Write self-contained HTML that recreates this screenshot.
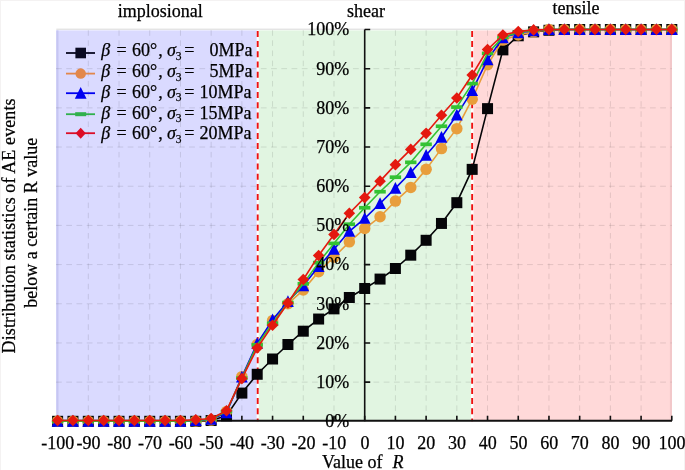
<!DOCTYPE html><html><head><meta charset="utf-8"><style>html,body{margin:0;padding:0;background:#fff}svg{display:block}text{font-family:"Liberation Serif",serif;font-size:18px;fill:#000;stroke:#000;stroke-width:0.25px}</style></head><body>
<svg width="685" height="470" viewBox="0 0 685 470">
<rect width="685" height="470" fill="#fff"/>
<path d="M684.5 0V470M0 0.5H685M0.5 0V470" stroke="#F4F2F2" stroke-width="1" fill="none"/>
<rect x="56.3" y="30.4" width="200.5" height="390.9" fill="#DADAFF"/>
<rect x="258.5" y="30.4" width="212.5" height="390.9" fill="#E1F5E1"/>
<rect x="473.3" y="30.4" width="198.7" height="390.9" fill="#FFD9D9"/>
<rect x="56.3" y="30.4" width="2.2" height="390.9" fill="#C6C6F2"/>
<rect x="669.9" y="30.4" width="2.1" height="390.9" fill="#F2C8CA"/>
<line x1="56.3" y1="29.2" x2="672" y2="29.2" stroke="#D8D8D8" stroke-width="1"/>
<path d="M88.31 30.2V421.3M119.02 30.2V421.3M149.73 30.2V421.3M180.44 30.2V421.3M211.15 30.2V421.3M241.86 30.2V421.3M272.57 30.2V421.3M303.28 30.2V421.3M333.99 30.2V421.3M364.7 30.2V421.3M395.41 30.2V421.3M426.12 30.2V421.3M456.83 30.2V421.3M487.54 30.2V421.3M518.25 30.2V421.3M548.96 30.2V421.3M579.67 30.2V421.3M610.38 30.2V421.3M641.09 30.2V421.3" stroke="#E4E4E4" style="mix-blend-mode:multiply" stroke-width="1" stroke-dasharray="5.6 4.54" fill="none"/>
<path d="M56 382.12H671.8M56 342.94H671.8M56 303.76H671.8M56 264.58H671.8M56 225.4H671.8M56 186.22H671.8M56 147.04H671.8M56 107.86H671.8M56 68.68H671.8" stroke="#E4E4E4" style="mix-blend-mode:multiply" stroke-width="1" stroke-dasharray="5.8 4.44" fill="none"/>
<rect x="256.8" y="30.4" width="1.7" height="390.9" fill="#fff"/>
<line x1="257.7" y1="30.9" x2="257.7" y2="421.3" stroke="#EE1111" stroke-width="1.9" stroke-dasharray="6 4.2"/>
<rect x="471" y="30.4" width="2.3" height="390.9" fill="#fff"/>
<line x1="472.15" y1="30.9" x2="472.15" y2="421.3" stroke="#EE1111" stroke-width="1.9" stroke-dasharray="6 4.2"/>
<line x1="56.6" y1="420.8" x2="672" y2="420.8" stroke="#111" stroke-width="2"/>
<path d="M57.6 420.8V415.8M88.31 420.8V415.8M119.02 420.8V415.8M149.73 420.8V415.8M180.44 420.8V415.8M211.15 420.8V415.8M241.86 420.8V415.8M272.57 420.8V415.8M303.28 420.8V415.8M333.99 420.8V415.8M364.7 420.8V415.8M395.41 420.8V415.8M426.12 420.8V415.8M456.83 420.8V415.8M487.54 420.8V415.8M518.25 420.8V415.8M548.96 420.8V415.8M579.67 420.8V415.8M610.38 420.8V415.8M641.09 420.8V415.8M671.8 420.8V415.8" stroke="#111" stroke-width="1.6" fill="none"/>
<line x1="364.7" y1="29.5" x2="364.7" y2="421.3" stroke="#111" stroke-width="1.6"/>
<path d="M364.7 382.12H370.2M364.7 342.94H370.2M364.7 303.76H370.2M364.7 264.58H370.2M364.7 225.4H370.2M364.7 186.22H370.2M364.7 147.04H370.2M364.7 107.86H370.2M364.7 68.68H370.2M364.7 29.5H370.2" stroke="#111" stroke-width="1.6" fill="none"/>
<text x="57.8" y="448.8" text-anchor="middle">-100</text>
<text x="88.51" y="448.8" text-anchor="middle">-90</text>
<text x="119.22" y="448.8" text-anchor="middle">-80</text>
<text x="149.93" y="448.8" text-anchor="middle">-70</text>
<text x="180.64" y="448.8" text-anchor="middle">-60</text>
<text x="211.35" y="448.8" text-anchor="middle">-50</text>
<text x="242.06" y="448.8" text-anchor="middle">-40</text>
<text x="272.77" y="448.8" text-anchor="middle">-30</text>
<text x="303.48" y="448.8" text-anchor="middle">-20</text>
<text x="334.19" y="448.8" text-anchor="middle">-10</text>
<text x="364.9" y="448.8" text-anchor="middle">0</text>
<text x="395.61" y="448.8" text-anchor="middle">10</text>
<text x="426.32" y="448.8" text-anchor="middle">20</text>
<text x="457.03" y="448.8" text-anchor="middle">30</text>
<text x="487.74" y="448.8" text-anchor="middle">40</text>
<text x="518.45" y="448.8" text-anchor="middle">50</text>
<text x="549.16" y="448.8" text-anchor="middle">60</text>
<text x="579.87" y="448.8" text-anchor="middle">70</text>
<text x="610.58" y="448.8" text-anchor="middle">80</text>
<text x="641.29" y="448.8" text-anchor="middle">90</text>
<text x="672" y="448.8" text-anchor="middle">100</text>
<text x="322" y="467.9">Value of</text><text x="392.6" y="467.9" font-style="italic">R</text>
<text transform="translate(14.7,352.4) rotate(-90)" x="-1" y="0" textLength="255" lengthAdjust="spacing">Distribution statistics of AE events</text>
<text transform="translate(37.1,307.7) rotate(-90)" x="0" y="0">below a certain R value</text>
<text x="117.8" y="16.9">implosional</text>
<text x="347" y="16.9">shear</text>
<text x="552.5" y="13.8">tensile</text>
<polyline points="57.6,421.3 72.95,421.3 88.31,421.3 103.66,421.3 119.02,421.3 134.38,421.3 149.73,421.3 165.08,421.3 180.44,421.3 195.79,421.3 211.15,420.52 226.5,415.81 241.86,393.09 257.21,374.28 272.57,359 287.92,344.51 303.28,331.19 318.63,319.04 333.99,308.85 349.34,297.49 364.7,288.48 380.06,279.08 395.41,268.5 410.76,255.18 426.12,240.29 441.47,223.44 456.83,202.68 472.18,169.37 487.54,108.64 502.89,49.87 518.25,35.77 533.6,31.85 548.96,30.28 564.31,29.5 579.67,29.5 595.02,29.5 610.38,29.5 625.73,29.5 641.09,29.5 656.44,29.5 671.8,29.5" fill="none" stroke="#050508" stroke-width="1.6" stroke-linejoin="round"/>
<rect x="52.1" y="415.8" width="11" height="11" fill="#050508"/><rect x="67.45" y="415.8" width="11" height="11" fill="#050508"/><rect x="82.81" y="415.8" width="11" height="11" fill="#050508"/><rect x="98.16" y="415.8" width="11" height="11" fill="#050508"/><rect x="113.52" y="415.8" width="11" height="11" fill="#050508"/><rect x="128.88" y="415.8" width="11" height="11" fill="#050508"/><rect x="144.23" y="415.8" width="11" height="11" fill="#050508"/><rect x="159.58" y="415.8" width="11" height="11" fill="#050508"/><rect x="174.94" y="415.8" width="11" height="11" fill="#050508"/><rect x="190.29" y="415.8" width="11" height="11" fill="#050508"/><rect x="205.65" y="415.02" width="11" height="11" fill="#050508"/><rect x="221" y="410.31" width="11" height="11" fill="#050508"/><rect x="236.36" y="387.59" width="11" height="11" fill="#050508"/><rect x="251.71" y="368.78" width="11" height="11" fill="#050508"/><rect x="267.07" y="353.5" width="11" height="11" fill="#050508"/><rect x="282.42" y="339.01" width="11" height="11" fill="#050508"/><rect x="297.78" y="325.69" width="11" height="11" fill="#050508"/><rect x="313.13" y="313.54" width="11" height="11" fill="#050508"/><rect x="328.49" y="303.35" width="11" height="11" fill="#050508"/><rect x="343.84" y="291.99" width="11" height="11" fill="#050508"/><rect x="359.2" y="282.98" width="11" height="11" fill="#050508"/><rect x="374.56" y="273.58" width="11" height="11" fill="#050508"/><rect x="389.91" y="263" width="11" height="11" fill="#050508"/><rect x="405.26" y="249.68" width="11" height="11" fill="#050508"/><rect x="420.62" y="234.79" width="11" height="11" fill="#050508"/><rect x="435.97" y="217.94" width="11" height="11" fill="#050508"/><rect x="451.33" y="197.18" width="11" height="11" fill="#050508"/><rect x="466.68" y="163.87" width="11" height="11" fill="#050508"/><rect x="482.04" y="103.14" width="11" height="11" fill="#050508"/><rect x="497.39" y="44.37" width="11" height="11" fill="#050508"/><rect x="512.75" y="30.27" width="11" height="11" fill="#050508"/><rect x="528.1" y="26.35" width="11" height="11" fill="#050508"/><rect x="543.46" y="24.78" width="11" height="11" fill="#050508"/><rect x="558.81" y="24" width="11" height="11" fill="#050508"/><rect x="574.17" y="24" width="11" height="11" fill="#050508"/><rect x="589.52" y="24" width="11" height="11" fill="#050508"/><rect x="604.88" y="24" width="11" height="11" fill="#050508"/><rect x="620.23" y="24" width="11" height="11" fill="#050508"/><rect x="635.59" y="24" width="11" height="11" fill="#050508"/><rect x="650.94" y="24" width="11" height="11" fill="#050508"/><rect x="666.3" y="24" width="11" height="11" fill="#050508"/>
<polyline points="57.6,421.3 72.95,421.3 88.31,421.3 103.66,421.3 119.02,421.3 134.38,421.3 149.73,421.3 165.08,421.3 180.44,421.3 195.79,420.91 211.15,420.12 226.5,411.5 241.86,376.63 257.21,344.51 272.57,320.61 287.92,303.76 303.28,290.05 318.63,271.63 333.99,257.14 349.34,241.86 364.7,228.53 380.06,216.78 395.41,201.11 410.76,187.4 426.12,169.37 441.47,148.61 456.83,128.63 472.18,99.24 487.54,64.76 502.89,40.08 518.25,34.99 533.6,31.85 548.96,29.5 564.31,29.5 579.67,29.5 595.02,29.5 610.38,29.5 625.73,29.5 641.09,29.5 656.44,29.5 671.8,29.5" fill="none" stroke="#E89E3C" stroke-width="1.6" stroke-linejoin="round"/>
<circle cx="57.6" cy="421.3" r="5.75" fill="#E89E3C"/><circle cx="72.95" cy="421.3" r="5.75" fill="#E89E3C"/><circle cx="88.31" cy="421.3" r="5.75" fill="#E89E3C"/><circle cx="103.66" cy="421.3" r="5.75" fill="#E89E3C"/><circle cx="119.02" cy="421.3" r="5.75" fill="#E89E3C"/><circle cx="134.38" cy="421.3" r="5.75" fill="#E89E3C"/><circle cx="149.73" cy="421.3" r="5.75" fill="#E89E3C"/><circle cx="165.08" cy="421.3" r="5.75" fill="#E89E3C"/><circle cx="180.44" cy="421.3" r="5.75" fill="#E89E3C"/><circle cx="195.79" cy="420.91" r="5.75" fill="#E89E3C"/><circle cx="211.15" cy="420.12" r="5.75" fill="#E89E3C"/><circle cx="226.5" cy="411.5" r="5.75" fill="#E89E3C"/><circle cx="241.86" cy="376.63" r="5.75" fill="#E89E3C"/><circle cx="257.21" cy="344.51" r="5.75" fill="#E89E3C"/><circle cx="272.57" cy="320.61" r="5.75" fill="#E89E3C"/><circle cx="287.92" cy="303.76" r="5.75" fill="#E89E3C"/><circle cx="303.28" cy="290.05" r="5.75" fill="#E89E3C"/><circle cx="318.63" cy="271.63" r="5.75" fill="#E89E3C"/><circle cx="333.99" cy="257.14" r="5.75" fill="#E89E3C"/><circle cx="349.34" cy="241.86" r="5.75" fill="#E89E3C"/><circle cx="364.7" cy="228.53" r="5.75" fill="#E89E3C"/><circle cx="380.06" cy="216.78" r="5.75" fill="#E89E3C"/><circle cx="395.41" cy="201.11" r="5.75" fill="#E89E3C"/><circle cx="410.76" cy="187.4" r="5.75" fill="#E89E3C"/><circle cx="426.12" cy="169.37" r="5.75" fill="#E89E3C"/><circle cx="441.47" cy="148.61" r="5.75" fill="#E89E3C"/><circle cx="456.83" cy="128.63" r="5.75" fill="#E89E3C"/><circle cx="472.18" cy="99.24" r="5.75" fill="#E89E3C"/><circle cx="487.54" cy="64.76" r="5.75" fill="#E89E3C"/><circle cx="502.89" cy="40.08" r="5.75" fill="#E89E3C"/><circle cx="518.25" cy="34.99" r="5.75" fill="#E89E3C"/><circle cx="533.6" cy="31.85" r="5.75" fill="#E89E3C"/><circle cx="548.96" cy="29.5" r="5.75" fill="#E89E3C"/><circle cx="564.31" cy="29.5" r="5.75" fill="#E89E3C"/><circle cx="579.67" cy="29.5" r="5.75" fill="#E89E3C"/><circle cx="595.02" cy="29.5" r="5.75" fill="#E89E3C"/><circle cx="610.38" cy="29.5" r="5.75" fill="#E89E3C"/><circle cx="625.73" cy="29.5" r="5.75" fill="#E89E3C"/><circle cx="641.09" cy="29.5" r="5.75" fill="#E89E3C"/><circle cx="656.44" cy="29.5" r="5.75" fill="#E89E3C"/><circle cx="671.8" cy="29.5" r="5.75" fill="#E89E3C"/>
<polyline points="57.6,421.3 72.95,421.3 88.31,421.3 103.66,421.3 119.02,421.3 134.38,421.3 149.73,421.3 165.08,421.3 180.44,421.3 195.79,420.52 211.15,419.34 226.5,412.68 241.86,377.03 257.21,343.33 272.57,319.82 287.92,301.41 303.28,285.74 318.63,266.54 333.99,249.3 349.34,231.28 364.7,218.35 380.06,203.46 395.41,188.18 410.76,172.51 426.12,155.27 441.47,137.25 456.83,114.91 472.18,90.62 487.54,59.67 502.89,37.73 518.25,32.63 533.6,30.68 548.96,29.5 564.31,29.5 579.67,29.5 595.02,29.5 610.38,29.5 625.73,29.5 641.09,29.5 656.44,29.5 671.8,29.5" fill="none" stroke="#0000F0" stroke-width="1.6" stroke-linejoin="round"/>
<path d="M57.6 415.1L63.5 426.8L51.7 426.8Z" fill="#0000F0"/><path d="M72.95 415.1L78.86 426.8L67.05 426.8Z" fill="#0000F0"/><path d="M88.31 415.1L94.21 426.8L82.41 426.8Z" fill="#0000F0"/><path d="M103.66 415.1L109.56 426.8L97.76 426.8Z" fill="#0000F0"/><path d="M119.02 415.1L124.92 426.8L113.12 426.8Z" fill="#0000F0"/><path d="M134.38 415.1L140.28 426.8L128.47 426.8Z" fill="#0000F0"/><path d="M149.73 415.1L155.63 426.8L143.83 426.8Z" fill="#0000F0"/><path d="M165.08 415.1L170.98 426.8L159.18 426.8Z" fill="#0000F0"/><path d="M180.44 415.1L186.34 426.8L174.54 426.8Z" fill="#0000F0"/><path d="M195.79 414.32L201.69 426.02L189.89 426.02Z" fill="#0000F0"/><path d="M211.15 413.14L217.05 424.84L205.25 424.84Z" fill="#0000F0"/><path d="M226.5 406.48L232.4 418.18L220.6 418.18Z" fill="#0000F0"/><path d="M241.86 370.83L247.76 382.53L235.96 382.53Z" fill="#0000F0"/><path d="M257.21 337.13L263.11 348.83L251.31 348.83Z" fill="#0000F0"/><path d="M272.57 313.62L278.47 325.32L266.67 325.32Z" fill="#0000F0"/><path d="M287.92 295.21L293.82 306.91L282.02 306.91Z" fill="#0000F0"/><path d="M303.28 279.54L309.18 291.24L297.38 291.24Z" fill="#0000F0"/><path d="M318.63 260.34L324.53 272.04L312.74 272.04Z" fill="#0000F0"/><path d="M333.99 243.1L339.89 254.8L328.09 254.8Z" fill="#0000F0"/><path d="M349.34 225.08L355.24 236.78L343.44 236.78Z" fill="#0000F0"/><path d="M364.7 212.15L370.6 223.85L358.8 223.85Z" fill="#0000F0"/><path d="M380.06 197.26L385.95 208.96L374.16 208.96Z" fill="#0000F0"/><path d="M395.41 181.98L401.31 193.68L389.51 193.68Z" fill="#0000F0"/><path d="M410.76 166.31L416.66 178.01L404.86 178.01Z" fill="#0000F0"/><path d="M426.12 149.07L432.02 160.77L420.22 160.77Z" fill="#0000F0"/><path d="M441.47 131.05L447.37 142.75L435.57 142.75Z" fill="#0000F0"/><path d="M456.83 108.71L462.73 120.41L450.93 120.41Z" fill="#0000F0"/><path d="M472.18 84.42L478.08 96.12L466.28 96.12Z" fill="#0000F0"/><path d="M487.54 53.47L493.44 65.17L481.64 65.17Z" fill="#0000F0"/><path d="M502.89 31.53L508.79 43.23L496.99 43.23Z" fill="#0000F0"/><path d="M518.25 26.43L524.15 38.13L512.35 38.13Z" fill="#0000F0"/><path d="M533.6 24.48L539.5 36.18L527.7 36.18Z" fill="#0000F0"/><path d="M548.96 23.3L554.86 35L543.06 35Z" fill="#0000F0"/><path d="M564.31 23.3L570.21 35L558.41 35Z" fill="#0000F0"/><path d="M579.67 23.3L585.57 35L573.77 35Z" fill="#0000F0"/><path d="M595.02 23.3L600.92 35L589.12 35Z" fill="#0000F0"/><path d="M610.38 23.3L616.28 35L604.48 35Z" fill="#0000F0"/><path d="M625.73 23.3L631.63 35L619.83 35Z" fill="#0000F0"/><path d="M641.09 23.3L646.99 35L635.19 35Z" fill="#0000F0"/><path d="M656.44 23.3L662.34 35L650.54 35Z" fill="#0000F0"/><path d="M671.8 23.3L677.7 35L665.9 35Z" fill="#0000F0"/>
<polyline points="57.6,421.3 72.95,421.3 88.31,421.3 103.66,421.3 119.02,421.3 134.38,421.3 149.73,421.3 165.08,421.3 180.44,421.3 195.79,420.52 211.15,418.95 226.5,411.5 241.86,378.2 257.21,344.9 272.57,323.35 287.92,302.58 303.28,283.78 318.63,262.62 333.99,243.42 349.34,224.22 364.7,207.77 380.06,191.71 395.41,177.21 410.76,162.32 426.12,144.3 441.47,126.27 456.83,107.08 472.18,83.57 487.54,53.4 502.89,37.34 518.25,32.24 533.6,30.28 548.96,29.5 564.31,29.5 579.67,29.5 595.02,29.5 610.38,29.5 625.73,29.5 641.09,29.5 656.44,29.5 671.8,29.5" fill="none" stroke="#33C233" stroke-width="1.6" stroke-linejoin="round"/>
<rect x="51.9" y="419.45" width="11.4" height="3.7" fill="#33C233"/><rect x="67.25" y="419.45" width="11.4" height="3.7" fill="#33C233"/><rect x="82.61" y="419.45" width="11.4" height="3.7" fill="#33C233"/><rect x="97.96" y="419.45" width="11.4" height="3.7" fill="#33C233"/><rect x="113.32" y="419.45" width="11.4" height="3.7" fill="#33C233"/><rect x="128.68" y="419.45" width="11.4" height="3.7" fill="#33C233"/><rect x="144.03" y="419.45" width="11.4" height="3.7" fill="#33C233"/><rect x="159.38" y="419.45" width="11.4" height="3.7" fill="#33C233"/><rect x="174.74" y="419.45" width="11.4" height="3.7" fill="#33C233"/><rect x="190.09" y="418.67" width="11.4" height="3.7" fill="#33C233"/><rect x="205.45" y="417.1" width="11.4" height="3.7" fill="#33C233"/><rect x="220.8" y="409.65" width="11.4" height="3.7" fill="#33C233"/><rect x="236.16" y="376.35" width="11.4" height="3.7" fill="#33C233"/><rect x="251.51" y="343.05" width="11.4" height="3.7" fill="#33C233"/><rect x="266.87" y="321.5" width="11.4" height="3.7" fill="#33C233"/><rect x="282.22" y="300.73" width="11.4" height="3.7" fill="#33C233"/><rect x="297.58" y="281.93" width="11.4" height="3.7" fill="#33C233"/><rect x="312.94" y="260.77" width="11.4" height="3.7" fill="#33C233"/><rect x="328.29" y="241.57" width="11.4" height="3.7" fill="#33C233"/><rect x="343.64" y="222.37" width="11.4" height="3.7" fill="#33C233"/><rect x="359" y="205.92" width="11.4" height="3.7" fill="#33C233"/><rect x="374.36" y="189.86" width="11.4" height="3.7" fill="#33C233"/><rect x="389.71" y="175.36" width="11.4" height="3.7" fill="#33C233"/><rect x="405.06" y="160.47" width="11.4" height="3.7" fill="#33C233"/><rect x="420.42" y="142.45" width="11.4" height="3.7" fill="#33C233"/><rect x="435.77" y="124.42" width="11.4" height="3.7" fill="#33C233"/><rect x="451.13" y="105.23" width="11.4" height="3.7" fill="#33C233"/><rect x="466.48" y="81.72" width="11.4" height="3.7" fill="#33C233"/><rect x="481.84" y="51.55" width="11.4" height="3.7" fill="#33C233"/><rect x="497.19" y="35.49" width="11.4" height="3.7" fill="#33C233"/><rect x="512.55" y="30.39" width="11.4" height="3.7" fill="#33C233"/><rect x="527.9" y="28.43" width="11.4" height="3.7" fill="#33C233"/><rect x="543.26" y="27.65" width="11.4" height="3.7" fill="#33C233"/><rect x="558.61" y="27.65" width="11.4" height="3.7" fill="#33C233"/><rect x="573.97" y="27.65" width="11.4" height="3.7" fill="#33C233"/><rect x="589.32" y="27.65" width="11.4" height="3.7" fill="#33C233"/><rect x="604.68" y="27.65" width="11.4" height="3.7" fill="#33C233"/><rect x="620.03" y="27.65" width="11.4" height="3.7" fill="#33C233"/><rect x="635.39" y="27.65" width="11.4" height="3.7" fill="#33C233"/><rect x="650.74" y="27.65" width="11.4" height="3.7" fill="#33C233"/><rect x="666.1" y="27.65" width="11.4" height="3.7" fill="#33C233"/>
<polyline points="57.6,420.52 72.95,420.52 88.31,420.52 103.66,420.52 119.02,420.52 134.38,420.52 149.73,420.52 165.08,420.52 180.44,420.52 195.79,419.73 211.15,418.56 226.5,410.72 241.86,378.59 257.21,348.03 272.57,325.31 287.92,302.98 303.28,279.47 318.63,255.57 333.99,234.41 349.34,213.25 364.7,197.58 380.06,181.13 395.41,164.67 410.76,149.39 426.12,133.33 441.47,115.3 456.83,98.06 472.18,74.95 487.54,49.48 502.89,34.99 518.25,31.46 533.6,29.89 548.96,29.5 564.31,29.5 579.67,29.5 595.02,29.5 610.38,29.5 625.73,29.5 641.09,29.5 656.44,29.5 671.8,29.5" fill="none" stroke="#E4190F" stroke-width="1.6" stroke-linejoin="round"/>
<path d="M57.6 414.72L63.4 420.52L57.6 426.32L51.8 420.52Z" fill="#E4190F"/><path d="M72.95 414.72L78.75 420.52L72.95 426.32L67.16 420.52Z" fill="#E4190F"/><path d="M88.31 414.72L94.11 420.52L88.31 426.32L82.51 420.52Z" fill="#E4190F"/><path d="M103.66 414.72L109.46 420.52L103.66 426.32L97.86 420.52Z" fill="#E4190F"/><path d="M119.02 414.72L124.82 420.52L119.02 426.32L113.22 420.52Z" fill="#E4190F"/><path d="M134.38 414.72L140.18 420.52L134.38 426.32L128.57 420.52Z" fill="#E4190F"/><path d="M149.73 414.72L155.53 420.52L149.73 426.32L143.93 420.52Z" fill="#E4190F"/><path d="M165.08 414.72L170.88 420.52L165.08 426.32L159.28 420.52Z" fill="#E4190F"/><path d="M180.44 414.72L186.24 420.52L180.44 426.32L174.64 420.52Z" fill="#E4190F"/><path d="M195.79 413.93L201.59 419.73L195.79 425.53L189.99 419.73Z" fill="#E4190F"/><path d="M211.15 412.76L216.95 418.56L211.15 424.36L205.35 418.56Z" fill="#E4190F"/><path d="M226.5 404.92L232.3 410.72L226.5 416.52L220.7 410.72Z" fill="#E4190F"/><path d="M241.86 372.79L247.66 378.59L241.86 384.39L236.06 378.59Z" fill="#E4190F"/><path d="M257.21 342.23L263.01 348.03L257.21 353.83L251.41 348.03Z" fill="#E4190F"/><path d="M272.57 319.51L278.37 325.31L272.57 331.11L266.77 325.31Z" fill="#E4190F"/><path d="M287.92 297.18L293.72 302.98L287.92 308.78L282.12 302.98Z" fill="#E4190F"/><path d="M303.28 273.67L309.08 279.47L303.28 285.27L297.48 279.47Z" fill="#E4190F"/><path d="M318.63 249.77L324.44 255.57L318.63 261.37L312.83 255.57Z" fill="#E4190F"/><path d="M333.99 228.61L339.79 234.41L333.99 240.21L328.19 234.41Z" fill="#E4190F"/><path d="M349.34 207.45L355.14 213.25L349.34 219.05L343.54 213.25Z" fill="#E4190F"/><path d="M364.7 191.78L370.5 197.58L364.7 203.38L358.9 197.58Z" fill="#E4190F"/><path d="M380.06 175.33L385.86 181.13L380.06 186.93L374.25 181.13Z" fill="#E4190F"/><path d="M395.41 158.87L401.21 164.67L395.41 170.47L389.61 164.67Z" fill="#E4190F"/><path d="M410.76 143.59L416.56 149.39L410.76 155.19L404.96 149.39Z" fill="#E4190F"/><path d="M426.12 127.53L431.92 133.33L426.12 139.13L420.32 133.33Z" fill="#E4190F"/><path d="M441.47 109.5L447.27 115.3L441.47 121.1L435.67 115.3Z" fill="#E4190F"/><path d="M456.83 92.27L462.63 98.06L456.83 103.86L451.03 98.06Z" fill="#E4190F"/><path d="M472.18 69.15L477.98 74.95L472.18 80.75L466.38 74.95Z" fill="#E4190F"/><path d="M487.54 43.68L493.34 49.48L487.54 55.28L481.74 49.48Z" fill="#E4190F"/><path d="M502.89 29.19L508.69 34.99L502.89 40.79L497.09 34.99Z" fill="#E4190F"/><path d="M518.25 25.66L524.05 31.46L518.25 37.26L512.45 31.46Z" fill="#E4190F"/><path d="M533.6 24.09L539.4 29.89L533.6 35.69L527.8 29.89Z" fill="#E4190F"/><path d="M548.96 23.7L554.76 29.5L548.96 35.3L543.16 29.5Z" fill="#E4190F"/><path d="M564.31 23.7L570.11 29.5L564.31 35.3L558.51 29.5Z" fill="#E4190F"/><path d="M579.67 23.7L585.47 29.5L579.67 35.3L573.87 29.5Z" fill="#E4190F"/><path d="M595.02 23.7L600.82 29.5L595.02 35.3L589.23 29.5Z" fill="#E4190F"/><path d="M610.38 23.7L616.18 29.5L610.38 35.3L604.58 29.5Z" fill="#E4190F"/><path d="M625.73 23.7L631.53 29.5L625.73 35.3L619.93 29.5Z" fill="#E4190F"/><path d="M641.09 23.7L646.89 29.5L641.09 35.3L635.29 29.5Z" fill="#E4190F"/><path d="M656.44 23.7L662.24 29.5L656.44 35.3L650.64 29.5Z" fill="#E4190F"/><path d="M671.8 23.7L677.6 29.5L671.8 35.3L666 29.5Z" fill="#E4190F"/>
<text x="349.3" y="427.2" text-anchor="end">0%</text>
<text x="349.3" y="388.02" text-anchor="end">10%</text>
<text x="349.3" y="348.84" text-anchor="end">20%</text>
<text x="349.3" y="309.66" text-anchor="end">30%</text>
<text x="349.3" y="270.48" text-anchor="end">40%</text>
<text x="349.3" y="231.3" text-anchor="end">50%</text>
<text x="349.3" y="192.12" text-anchor="end">60%</text>
<text x="349.3" y="152.94" text-anchor="end">70%</text>
<text x="349.3" y="113.76" text-anchor="end">80%</text>
<text x="349.3" y="74.58" text-anchor="end">90%</text>
<text x="349.3" y="35.4" text-anchor="end">100%</text>
<line x1="66" y1="53" x2="95" y2="53" stroke="#0A0A22" stroke-width="1.8"/>
<rect x="75.4" y="47.7" width="10.6" height="10.6" fill="#0A0A22"/>
<text x="101.3" y="56" font-style="italic">β</text>
<text x="116.4" y="56">=</text>
<text x="132" y="56">60°</text>
<text x="158.3" y="56">,</text>
<text x="167" y="56" font-style="italic">σ</text>
<text x="175.8" y="59.6" style="font-size:11.5px">3</text>
<text x="184.3" y="56">=</text>
<text x="209.4" y="56">0MPa</text>
<line x1="66" y1="73.6" x2="95" y2="73.6" stroke="#E2874A" stroke-width="1.8"/>
<circle cx="80.7" cy="73.6" r="5.25" fill="#E2874A"/>
<text x="101.3" y="76.9" font-style="italic">β</text>
<text x="116.4" y="76.9">=</text>
<text x="132" y="76.9">60°</text>
<text x="158.3" y="76.9">,</text>
<text x="167" y="76.9" font-style="italic">σ</text>
<text x="175.8" y="80.5" style="font-size:11.5px">3</text>
<text x="184.3" y="76.9">=</text>
<text x="209.4" y="76.9">5MPa</text>
<line x1="66" y1="93.2" x2="95" y2="93.2" stroke="#0000F0" stroke-width="1.8"/>
<path d="M80.7 87L86.6 98.7L74.8 98.7Z" fill="#0000F0"/>
<text x="101.3" y="97.8" font-style="italic">β</text>
<text x="116.4" y="97.8">=</text>
<text x="132" y="97.8">60°</text>
<text x="158.3" y="97.8">,</text>
<text x="167" y="97.8" font-style="italic">σ</text>
<text x="175.8" y="101.4" style="font-size:11.5px">3</text>
<text x="184.3" y="97.8">=</text>
<text x="199.6" y="97.8">10MPa</text>
<line x1="66" y1="114.2" x2="95" y2="114.2" stroke="#30B04C" stroke-width="1.8"/>
<rect x="75.2" y="112.2" width="11" height="4" fill="#30B04C"/>
<text x="101.3" y="118.6" font-style="italic">β</text>
<text x="116.4" y="118.6">=</text>
<text x="132" y="118.6">60°</text>
<text x="158.3" y="118.6">,</text>
<text x="167" y="118.6" font-style="italic">σ</text>
<text x="175.8" y="122.2" style="font-size:11.5px">3</text>
<text x="184.3" y="118.6">=</text>
<text x="199.6" y="118.6">15MPa</text>
<line x1="66" y1="133.2" x2="95" y2="133.2" stroke="#DC0C26" stroke-width="1.8"/>
<path d="M80.7 127.7L85.8 133.2L80.7 138.7L75.6 133.2Z" fill="#DC0C26"/>
<text x="101.3" y="139.4" font-style="italic">β</text>
<text x="116.4" y="139.4">=</text>
<text x="132" y="139.4">60°</text>
<text x="158.3" y="139.4">,</text>
<text x="167" y="139.4" font-style="italic">σ</text>
<text x="175.8" y="143" style="font-size:11.5px">3</text>
<text x="184.3" y="139.4">=</text>
<text x="199.6" y="139.4">20MPa</text>
</svg></body></html>
